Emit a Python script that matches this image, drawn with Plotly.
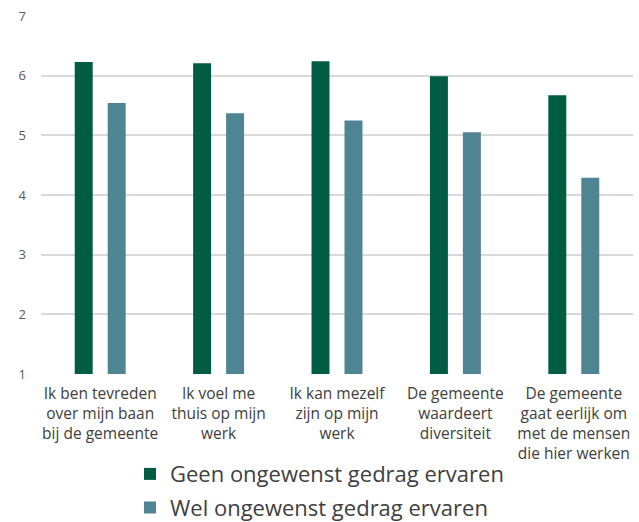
import plotly.graph_objects as go

categories = [
    "Ik ben tevreden<br>over mijn baan<br>bij de gemeente",
    "Ik voel me<br>thuis op mijn<br>werk",
    "Ik kan mezelf<br>zijn op mijn<br>werk",
    "De gemeente<br>waardeert<br>diversiteit",
    "De gemeente<br>gaat eerlijk om<br>met de mensen<br>die hier werken",
]
geen_values = [6.23, 6.21, 6.24, 5.99, 5.67]
wel_values = [5.54, 5.37, 5.25, 5.05, 4.29]
y_ticks = [1, 2, 3, 4, 5, 6, 7]

FONT = "Open Sans"

fig = go.Figure()
fig.add_trace(go.Bar(
    x=categories, y=geen_values, name="Geen ongewenst gedrag ervaren",
    marker=dict(color="#005c42", line=dict(width=0)), legendgroup="a",
))
fig.add_trace(go.Bar(
    x=categories, y=wel_values, name="Wel ongewenst gedrag ervaren",
    marker=dict(color="#4f8593", line=dict(width=0)), legendgroup="b",
))

fig.update_layout(
    width=639, height=522,
    margin=dict(l=41, r=6, t=16, b=148),
    paper_bgcolor="white", plot_bgcolor="white",
    barmode="group", bargap=0.443, bargroupgap=0.455,
    font=dict(family=FONT, color="#595959"),
    showlegend=True,
    legend=dict(
        orientation="v", x=0.4704, xanchor="center",
        yref="container", y=0.132, yanchor="top",
        font=dict(size=22, color="#404040", family=FONT),
        tracegroupgap=2, itemwidth=30,
    ),
    xaxis=dict(
        showgrid=False, showline=False, zeroline=False, automargin=False,
        tickfont=dict(size=15.5, color="#404040"), ticks="",
        ticklabelstandoff=8,
    ),
    yaxis=dict(
        range=[1, 7], tickvals=y_ticks, showgrid=True, automargin=False,
        gridcolor="#d9d9d9", gridwidth=1.5, zeroline=False, showline=False,
        tickfont=dict(size=13, color="#595959"), ticklabelstandoff=14,
    ),
)

fig.write_html("out.html")
